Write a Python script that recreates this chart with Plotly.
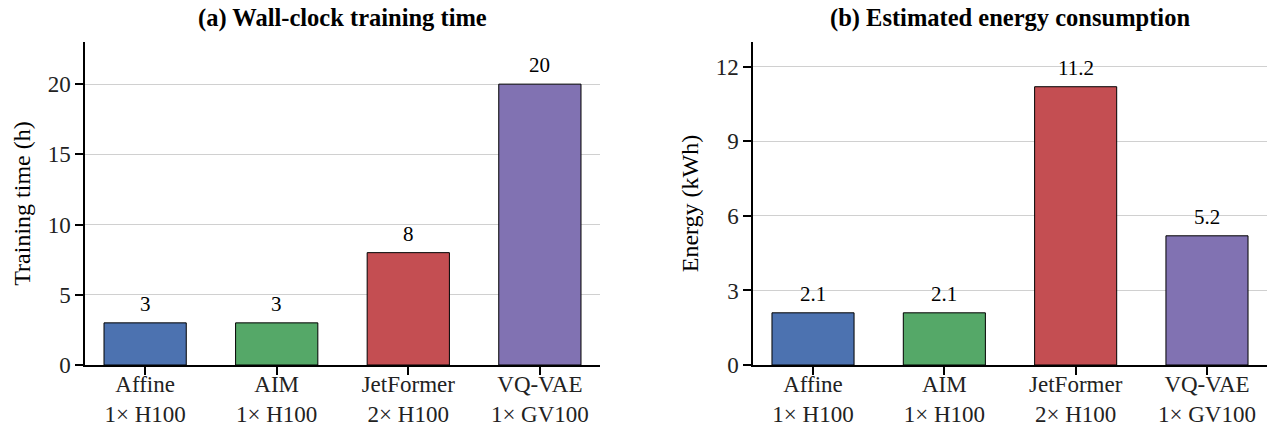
import plotly.graph_objects as go

methods = ["Affine", "AIM", "JetFormer", "VQ-VAE"]
hardware = ["1× H100", "1× H100", "2× H100", "1× GV100"]
train_hours = [3, 3, 8, 20]
energy_kwh = [2.1, 2.1, 11.2, 5.2]
bar_colors = ["#4C72B0", "#55A868", "#C44E52", "#8172B2"]
time_ticks = [0, 5, 10, 15, 20]
energy_ticks = [0, 3, 6, 9, 12]

cats = [f"{m}<br>{h}" for m, h in zip(methods, hardware)]
FONT = "Liberation Serif"

fig = go.Figure()
fig.add_trace(go.Bar(
    x=cats, y=train_hours, xaxis="x", yaxis="y",
    marker=dict(color=bar_colors, line=dict(color="black", width=1)),
    width=0.625, showlegend=False, hoverinfo="y",
))
fig.add_trace(go.Bar(
    x=cats, y=energy_kwh, xaxis="x2", yaxis="y2",
    marker=dict(color=bar_colors, line=dict(color="black", width=1)),
    width=0.625, showlegend=False, hoverinfo="y",
))

annotations = []
for xr, yr, vals in (("x", "y", train_hours), ("x2", "y2", energy_kwh)):
    for c, v in zip(cats, vals):
        annotations.append(dict(
            x=c, y=v, xref=xr, yref=yr, text=f"{v:g}", showarrow=False,
            xanchor="center", yanchor="bottom", yshift=5,
            font=dict(size=21, color="black", family=FONT),
        ))

xcommon = dict(
    showline=True, linecolor="black", linewidth=1.5,
    ticks="outside", ticklen=8, tickwidth=1.5, tickcolor="black",
    showgrid=False, range=[-0.457, 3.457], automargin=False,
    ticklabelstandoff=-10,
    tickfont=dict(size=23, color="#222222", family=FONT),
)
ycommon = dict(
    showline=True, linecolor="black", linewidth=1.5,
    ticks="outside", ticklen=8, tickwidth=1.5, tickcolor="black",
    showgrid=True, gridcolor="#d0d0d0", gridwidth=1,
    zeroline=False, automargin=False,
    tickfont=dict(size=23, color="#222222", family=FONT),
    title_font=dict(size=24, color="black", family=FONT),
)

ydom = [70 / 435, 393 / 435]
for t, cx in (("<b>(a) Wall-clock training time</b>", (85 + 600) / 2),
              ("<b>(b) Estimated energy consumption</b>", (753 + 1267) / 2)):
    annotations.append(dict(
        text=t, x=cx / 1272, y=1 - 18 / 435, xref="paper", yref="paper",
        showarrow=False, xanchor="center", yanchor="middle",
        font=dict(size=24.5, color="black", family=FONT),
    ))

fig.update_layout(
    width=1272, height=435,
    margin=dict(l=0, r=0, t=0, b=0, autoexpand=False),
    paper_bgcolor="white", plot_bgcolor="white",
    font=dict(family=FONT, color="black"),
    xaxis=dict(domain=[85 / 1272, 600 / 1272], anchor="y", **xcommon),
    xaxis2=dict(domain=[753 / 1272, 1267 / 1272], anchor="y2", **xcommon),
    yaxis=dict(domain=ydom, anchor="x", range=[0, 23], tickvals=time_ticks,
               title=dict(text="Training time (h)", standoff=10), **ycommon),
    yaxis2=dict(domain=ydom, anchor="x2", range=[0, 13], tickvals=energy_ticks,
                title=dict(text="Energy (kWh)", standoff=10), **ycommon),
    annotations=annotations,
)

fig.write_html("out.html")
